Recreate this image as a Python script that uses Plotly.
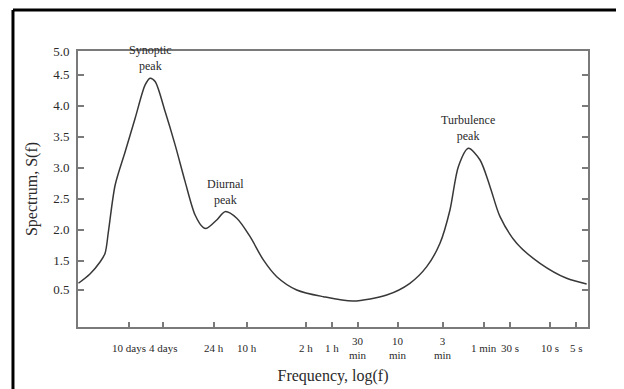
import numpy as np
import plotly.graph_objects as go

# Curve: x = log10(frequency in Hz), y = spectrum (axis units)
log_f = [-6.525, -6.39, -6.272, -6.213, -6.174, -6.095, -5.978, -5.861, -5.744, -5.686,
         -5.627, -5.510, -5.393, -5.276, -5.159, -5.062, -5.022, -4.905, -4.808, -4.671,
         -4.515, -4.360, -4.203, -3.969, -3.658, -3.310, -2.916, -2.644, -2.447, -2.292,
         -2.175, -2.077, -1.960, -1.823, -1.706, -1.589, -1.394, -1.121, -0.809, -0.575]
spectrum = [1.135, 1.285, 1.478, 1.619, 1.967, 2.720, 3.257, 3.796, 4.333, 4.441,
            4.387, 3.903, 3.366, 2.774, 2.236, 2.032, 2.022, 2.156, 2.290, 2.183,
            1.886, 1.511, 1.241, 1.027, 0.919, 0.849, 0.946, 1.135, 1.403, 1.780,
            2.317, 3.015, 3.312, 3.123, 2.693, 2.209, 1.780, 1.457, 1.215, 1.124]

# X ticks: periods in seconds and their labels
tick_periods_s = [864000, 345600, 86400, 36000, 7200, 3600, 1800, 600, 180, 60, 30, 10, 5]
tick_labels_x = ["10 days", "4 days", "24 h", "10 h", "2 h", "1 h", "30<br>min",
                 "10<br>min", "3<br>min", "1 min", "30 s", "10 s", "5 s"]

# Y ticks: positions on the axis and printed labels (axis is hand-spaced in the original)
tick_pos_y = [1.03, 1.5, 2.0, 2.5, 3.0, 3.5, 4.0, 4.5, 4.87]
tick_labels_y = ["0.5", "1.5", "2.0", "2.5", "3.0", "3.5", "4.0", "4.5", "5.0"]

# Peak labels
peak_names = ["Synoptic<br>peak", "Diurnal<br>peak", "Turbulence<br>peak"]
peak_x = [-5.686, -4.808, -1.960]
peak_y = [4.441, 2.290, 3.312]

tickvals_x = [-np.log10(p) for p in tick_periods_s]

serif = "Liberation Serif"
ink = "#2a2a2a"
frame = "#7a7a7a"

fig = go.Figure()
fig.add_trace(go.Scatter(x=log_f, y=spectrum, mode="lines",
                         line=dict(color="#383838", width=1.5, shape="spline", smoothing=0.8),
                         hoverinfo="skip", showlegend=False))

for name, x, y in zip(peak_names, peak_x, peak_y):
    fig.add_annotation(x=x, y=y, text=name, showarrow=False, xanchor="center",
                       yanchor="bottom", yshift=3,
                       font=dict(family=serif, size=12, color=ink))

# X tick labels (vertically centred like the original, two-line labels straddle the row)
for tv, lab in zip(tickvals_x, tick_labels_x):
    fig.add_annotation(x=tv, xref="x", y=-0.076, yref="paper", text=lab,
                       showarrow=False, xanchor="center", yanchor="middle",
                       font=dict(family=serif, size=11, color=ink))

fig.update_layout(
    width=624, height=389,
    margin=dict(l=70, r=44, t=43, b=70),
    paper_bgcolor="white", plot_bgcolor="white",
    font=dict(family=serif, color=ink),
    showlegend=False,
    shapes=[
        dict(type="line", xref="paper", yref="paper", x0=-0.1275, x1=1.2,
             y0=1.1486, y1=1.1486, line=dict(color="black", width=3)),
        dict(type="line", xref="paper", yref="paper", x0=-0.1275, x1=-0.1275,
             y0=-0.4, y1=1.1486, line=dict(color="black", width=3)),
    ],
)
fig.update_xaxes(
    range=[-6.53, -0.559], tickmode="array", tickvals=tickvals_x,
    showticklabels=False,
    ticks="inside", ticklen=5, tickcolor=frame, tickwidth=1.5,
    showline=True, linecolor=frame, linewidth=2, mirror=True,
    showgrid=False, zeroline=False,
    title=dict(text="Frequency, log(f)", font=dict(family=serif, size=16, color=ink), standoff=42),
)
fig.update_yaxes(
    range=[0.43, 4.88], tickmode="array", tickvals=tick_pos_y, ticktext=tick_labels_y,
    ticks="inside", ticklen=6, tickcolor=frame, tickwidth=1.5,
    showline=True, linecolor=frame, linewidth=2, mirror="ticks",
    showgrid=False, zeroline=False, ticklabelstandoff=4,
    tickfont=dict(family=serif, size=13, color=ink),
    title=dict(text="Spectrum, S(f)", font=dict(family=serif, size=16, color=ink), standoff=12),
)

fig.write_html("out.html")
